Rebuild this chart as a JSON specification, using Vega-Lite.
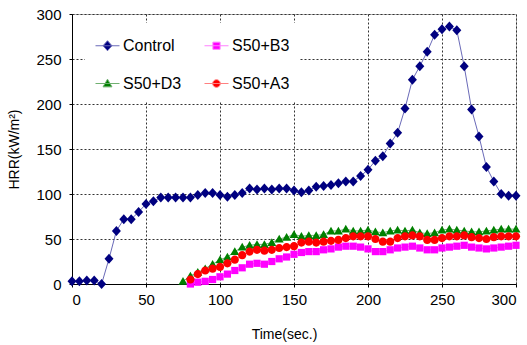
{
  "$schema": "https://vega.github.io/schema/vega-lite/v6.json",
  "width": 444,
  "height": 270,
  "autosize": "none",
  "padding": {"left": 72, "top": 14, "right": 11, "bottom": 61},
  "background": "white",
  "config": {
    "font": "Liberation Sans, Arial, sans-serif",
    "view": {"stroke": "#b8b8b8", "strokeWidth": 1},
    "axis": {
      "labelFont": "Liberation Sans, Arial, sans-serif",
      "titleFont": "Liberation Sans, Arial, sans-serif",
      "labelFontSize": 15,
      "titleFontSize": 14,
      "titleFontWeight": "normal",
      "labelColor": "#000",
      "titleColor": "#000",
      "domainColor": "#000",
      "tickColor": "#000",
      "tickSize": 3,
      "gridColor": "#333",
      "gridDash": [2, 2],
      "gridWidth": 1
    }
  },
  "data": {
    "values": [
      {"series": "Control", "t": 0, "hrr": 3}, {"series": "Control", "t": 5, "hrr": 3}, {"series": "Control", "t": 10, "hrr": 4}, {"series": "Control", "t": 15, "hrr": 4}, {"series": "Control", "t": 20, "hrr": 0}, {"series": "Control", "t": 25, "hrr": 28}, {"series": "Control", "t": 30, "hrr": 59}, {"series": "Control", "t": 35, "hrr": 72}, {"series": "Control", "t": 40, "hrr": 72}, {"series": "Control", "t": 45, "hrr": 80}, {"series": "Control", "t": 50, "hrr": 89}, {"series": "Control", "t": 55, "hrr": 92}, {"series": "Control", "t": 60, "hrr": 96}, {"series": "Control", "t": 65, "hrr": 96}, {"series": "Control", "t": 70, "hrr": 96}, {"series": "Control", "t": 75, "hrr": 96}, {"series": "Control", "t": 80, "hrr": 96}, {"series": "Control", "t": 85, "hrr": 99}, {"series": "Control", "t": 90, "hrr": 101}, {"series": "Control", "t": 95, "hrr": 101}, {"series": "Control", "t": 100, "hrr": 99}, {"series": "Control", "t": 105, "hrr": 97}, {"series": "Control", "t": 110, "hrr": 99}, {"series": "Control", "t": 115, "hrr": 101}, {"series": "Control", "t": 120, "hrr": 106}, {"series": "Control", "t": 125, "hrr": 105}, {"series": "Control", "t": 130, "hrr": 106}, {"series": "Control", "t": 135, "hrr": 105}, {"series": "Control", "t": 140, "hrr": 106}, {"series": "Control", "t": 145, "hrr": 106}, {"series": "Control", "t": 150, "hrr": 104}, {"series": "Control", "t": 155, "hrr": 102}, {"series": "Control", "t": 160, "hrr": 104}, {"series": "Control", "t": 165, "hrr": 108}, {"series": "Control", "t": 170, "hrr": 109}, {"series": "Control", "t": 175, "hrr": 110}, {"series": "Control", "t": 180, "hrr": 112}, {"series": "Control", "t": 185, "hrr": 114}, {"series": "Control", "t": 190, "hrr": 114}, {"series": "Control", "t": 195, "hrr": 120}, {"series": "Control", "t": 200, "hrr": 127}, {"series": "Control", "t": 205, "hrr": 137}, {"series": "Control", "t": 210, "hrr": 142}, {"series": "Control", "t": 215, "hrr": 156}, {"series": "Control", "t": 220, "hrr": 168}, {"series": "Control", "t": 225, "hrr": 195}, {"series": "Control", "t": 230, "hrr": 227}, {"series": "Control", "t": 235, "hrr": 242}, {"series": "Control", "t": 240, "hrr": 258}, {"series": "Control", "t": 245, "hrr": 277}, {"series": "Control", "t": 250, "hrr": 283}, {"series": "Control", "t": 255, "hrr": 286}, {"series": "Control", "t": 260, "hrr": 282}, {"series": "Control", "t": 265, "hrr": 242}, {"series": "Control", "t": 270, "hrr": 194}, {"series": "Control", "t": 275, "hrr": 164}, {"series": "Control", "t": 280, "hrr": 130}, {"series": "Control", "t": 285, "hrr": 114}, {"series": "Control", "t": 290, "hrr": 100}, {"series": "Control", "t": 295, "hrr": 98}, {"series": "Control", "t": 300, "hrr": 98},

      {"series": "S50+D3", "t": 75, "hrr": 3}, {"series": "S50+D3", "t": 80, "hrr": 9}, {"series": "S50+D3", "t": 85, "hrr": 13}, {"series": "S50+D3", "t": 90, "hrr": 17}, {"series": "S50+D3", "t": 95, "hrr": 22}, {"series": "S50+D3", "t": 100, "hrr": 27}, {"series": "S50+D3", "t": 105, "hrr": 30}, {"series": "S50+D3", "t": 110, "hrr": 36}, {"series": "S50+D3", "t": 115, "hrr": 41}, {"series": "S50+D3", "t": 120, "hrr": 43}, {"series": "S50+D3", "t": 125, "hrr": 44}, {"series": "S50+D3", "t": 130, "hrr": 44}, {"series": "S50+D3", "t": 135, "hrr": 46}, {"series": "S50+D3", "t": 140, "hrr": 50}, {"series": "S50+D3", "t": 145, "hrr": 52}, {"series": "S50+D3", "t": 150, "hrr": 55}, {"series": "S50+D3", "t": 155, "hrr": 53}, {"series": "S50+D3", "t": 160, "hrr": 54}, {"series": "S50+D3", "t": 165, "hrr": 54}, {"series": "S50+D3", "t": 170, "hrr": 55}, {"series": "S50+D3", "t": 175, "hrr": 59}, {"series": "S50+D3", "t": 180, "hrr": 59}, {"series": "S50+D3", "t": 185, "hrr": 61}, {"series": "S50+D3", "t": 190, "hrr": 59}, {"series": "S50+D3", "t": 195, "hrr": 59}, {"series": "S50+D3", "t": 200, "hrr": 60}, {"series": "S50+D3", "t": 205, "hrr": 58}, {"series": "S50+D3", "t": 210, "hrr": 57}, {"series": "S50+D3", "t": 215, "hrr": 59}, {"series": "S50+D3", "t": 220, "hrr": 60}, {"series": "S50+D3", "t": 225, "hrr": 59}, {"series": "S50+D3", "t": 230, "hrr": 60}, {"series": "S50+D3", "t": 235, "hrr": 57}, {"series": "S50+D3", "t": 240, "hrr": 56}, {"series": "S50+D3", "t": 245, "hrr": 57}, {"series": "S50+D3", "t": 250, "hrr": 60}, {"series": "S50+D3", "t": 255, "hrr": 61}, {"series": "S50+D3", "t": 260, "hrr": 60}, {"series": "S50+D3", "t": 265, "hrr": 59}, {"series": "S50+D3", "t": 270, "hrr": 58}, {"series": "S50+D3", "t": 275, "hrr": 58}, {"series": "S50+D3", "t": 280, "hrr": 59}, {"series": "S50+D3", "t": 285, "hrr": 60}, {"series": "S50+D3", "t": 290, "hrr": 61}, {"series": "S50+D3", "t": 295, "hrr": 61}, {"series": "S50+D3", "t": 300, "hrr": 61},

      {"series": "S50+B3", "t": 80, "hrr": 0}, {"series": "S50+B3", "t": 85, "hrr": 2}, {"series": "S50+B3", "t": 90, "hrr": 3}, {"series": "S50+B3", "t": 95, "hrr": 5}, {"series": "S50+B3", "t": 100, "hrr": 8}, {"series": "S50+B3", "t": 105, "hrr": 11}, {"series": "S50+B3", "t": 110, "hrr": 15}, {"series": "S50+B3", "t": 115, "hrr": 18}, {"series": "S50+B3", "t": 120, "hrr": 22}, {"series": "S50+B3", "t": 125, "hrr": 23}, {"series": "S50+B3", "t": 130, "hrr": 22}, {"series": "S50+B3", "t": 135, "hrr": 25}, {"series": "S50+B3", "t": 140, "hrr": 28}, {"series": "S50+B3", "t": 145, "hrr": 30}, {"series": "S50+B3", "t": 150, "hrr": 33}, {"series": "S50+B3", "t": 155, "hrr": 35}, {"series": "S50+B3", "t": 160, "hrr": 36}, {"series": "S50+B3", "t": 165, "hrr": 36}, {"series": "S50+B3", "t": 170, "hrr": 38}, {"series": "S50+B3", "t": 175, "hrr": 39}, {"series": "S50+B3", "t": 180, "hrr": 41}, {"series": "S50+B3", "t": 185, "hrr": 42}, {"series": "S50+B3", "t": 190, "hrr": 42}, {"series": "S50+B3", "t": 195, "hrr": 41}, {"series": "S50+B3", "t": 200, "hrr": 39}, {"series": "S50+B3", "t": 205, "hrr": 36}, {"series": "S50+B3", "t": 210, "hrr": 36}, {"series": "S50+B3", "t": 215, "hrr": 38}, {"series": "S50+B3", "t": 220, "hrr": 40}, {"series": "S50+B3", "t": 225, "hrr": 41}, {"series": "S50+B3", "t": 230, "hrr": 42}, {"series": "S50+B3", "t": 235, "hrr": 40}, {"series": "S50+B3", "t": 240, "hrr": 38}, {"series": "S50+B3", "t": 245, "hrr": 38}, {"series": "S50+B3", "t": 250, "hrr": 40}, {"series": "S50+B3", "t": 255, "hrr": 41}, {"series": "S50+B3", "t": 260, "hrr": 42}, {"series": "S50+B3", "t": 265, "hrr": 43}, {"series": "S50+B3", "t": 270, "hrr": 41}, {"series": "S50+B3", "t": 275, "hrr": 40}, {"series": "S50+B3", "t": 280, "hrr": 39}, {"series": "S50+B3", "t": 285, "hrr": 40}, {"series": "S50+B3", "t": 290, "hrr": 41}, {"series": "S50+B3", "t": 295, "hrr": 42}, {"series": "S50+B3", "t": 300, "hrr": 43},

      {"series": "S50+A3", "t": 80, "hrr": 5}, {"series": "S50+A3", "t": 85, "hrr": 11}, {"series": "S50+A3", "t": 90, "hrr": 15}, {"series": "S50+A3", "t": 95, "hrr": 17}, {"series": "S50+A3", "t": 100, "hrr": 19}, {"series": "S50+A3", "t": 105, "hrr": 23}, {"series": "S50+A3", "t": 110, "hrr": 27}, {"series": "S50+A3", "t": 115, "hrr": 32}, {"series": "S50+A3", "t": 120, "hrr": 36}, {"series": "S50+A3", "t": 125, "hrr": 38}, {"series": "S50+A3", "t": 130, "hrr": 37}, {"series": "S50+A3", "t": 135, "hrr": 38}, {"series": "S50+A3", "t": 140, "hrr": 40}, {"series": "S50+A3", "t": 145, "hrr": 41}, {"series": "S50+A3", "t": 150, "hrr": 42}, {"series": "S50+A3", "t": 155, "hrr": 46}, {"series": "S50+A3", "t": 160, "hrr": 47}, {"series": "S50+A3", "t": 165, "hrr": 46}, {"series": "S50+A3", "t": 170, "hrr": 47}, {"series": "S50+A3", "t": 175, "hrr": 48}, {"series": "S50+A3", "t": 180, "hrr": 49}, {"series": "S50+A3", "t": 185, "hrr": 51}, {"series": "S50+A3", "t": 190, "hrr": 53}, {"series": "S50+A3", "t": 195, "hrr": 53}, {"series": "S50+A3", "t": 200, "hrr": 53}, {"series": "S50+A3", "t": 205, "hrr": 50}, {"series": "S50+A3", "t": 210, "hrr": 47}, {"series": "S50+A3", "t": 215, "hrr": 47}, {"series": "S50+A3", "t": 220, "hrr": 51}, {"series": "S50+A3", "t": 225, "hrr": 53}, {"series": "S50+A3", "t": 230, "hrr": 54}, {"series": "S50+A3", "t": 235, "hrr": 53}, {"series": "S50+A3", "t": 240, "hrr": 49}, {"series": "S50+A3", "t": 245, "hrr": 49}, {"series": "S50+A3", "t": 250, "hrr": 51}, {"series": "S50+A3", "t": 255, "hrr": 53}, {"series": "S50+A3", "t": 260, "hrr": 53}, {"series": "S50+A3", "t": 265, "hrr": 54}, {"series": "S50+A3", "t": 270, "hrr": 52}, {"series": "S50+A3", "t": 275, "hrr": 51}, {"series": "S50+A3", "t": 280, "hrr": 50}, {"series": "S50+A3", "t": 285, "hrr": 52}, {"series": "S50+A3", "t": 290, "hrr": 53}, {"series": "S50+A3", "t": 295, "hrr": 53}, {"series": "S50+A3", "t": 300, "hrr": 53}
    ]
  },
  "encoding": {
    "x": {
      "field": "t", "type": "quantitative",
      "scale": {"domain": [0, 300], "nice": false, "zero": false},
      "axis": {"values": [0, 50, 100, 150, 200, 250, 300], "title": "Time(sec.)", "labelPadding": 5, "titlePadding": 20, "titleX": 212, "grid": true}
    },
    "y": {
      "field": "hrr", "type": "quantitative",
      "scale": {"domain": [0, 300], "nice": false},
      "axis": {"values": [0, 50, 100, 150, 200, 250, 300], "title": "HRR(kW/m²)", "labelPadding": 8, "titlePadding": 14, "grid": true}
    }
  },
  "layer": [
    {
      "mark": {"type": "line", "strokeWidth": 1},
      "encoding": {
        "detail": {"field": "series"},
        "stroke": {
          "field": "series", "type": "nominal",
          "scale": {"domain": ["Control", "S50+B3", "S50+D3", "S50+A3"], "range": ["#6a6ab8", "#ff80ff", "#70b070", "#ff8080"]}
        }
      }
    },
    {
      "transform": [{"filter": "datum.series === 'Control'"}],
      "mark": {"type": "point", "filled": true, "opacity": 1, "size": 100, "color": "#000080", "shape": "M0,-1L0.9,0L0,1L-0.9,0Z"}
    },
    {
      "transform": [{"filter": "datum.series === 'S50+D3'"}],
      "mark": {"type": "point", "filled": true, "opacity": 1, "size": 100, "color": "#008000", "shape": "M0,-0.85L0.9,0.7H-0.9Z"}
    },
    {
      "transform": [{"filter": "datum.series === 'S50+B3'"}],
      "mark": {"type": "point", "filled": true, "opacity": 1, "size": 100, "color": "#ff00ff", "shape": "M-0.72,-0.72H0.72V0.72H-0.72Z"}
    },
    {
      "transform": [{"filter": "datum.series === 'S50+A3'"}],
      "mark": {"type": "point", "filled": true, "opacity": 1, "size": 100, "color": "#ff0000", "shape": "M-0.82,0A0.82,0.82 0 1,0 0.82,0A0.82,0.82 0 1,0 -0.82,0Z"}
    },
    {
      "transform": [{"filter": "false"}],
      "mark": {"type": "point", "filled": true, "opacity": 1, "strokeWidth": 1},
      "encoding": {
        "color": {
          "field": "series", "type": "nominal",
          "scale": {"domain": ["Control", "S50+B3", "S50+D3", "S50+A3"], "range": ["#000080", "#ff00ff", "#008000", "#ff0000"]},
          "legend": {
            "title": null,
            "orient": "none",
            "legendX": 13,
            "legendY": 9,
            "columns": 2,
            "direction": "horizontal",
            "fillColor": "white",
            "padding": 10,
            "symbolSize": 576,
            "symbolStrokeWidth": 1,
            "labelFont": "Liberation Sans, Arial, sans-serif",
            "labelFontSize": 16,
            "labelColor": "#000",
            "labelOffset": 3,
            "columnPadding": 20,
            "rowPadding": 17
          }
        },
        "shape": {
          "field": "series", "type": "nominal",
          "scale": {"domain": ["Control", "S50+B3", "S50+D3", "S50+A3"], "range": ["M-1,0H1M0,-0.42L0.37,0L0,0.42L-0.37,0Z", "M-1,0H1M-0.3,-0.3H0.3V0.3H-0.3Z", "M-1,0H1M0,-0.36L0.37,0.28H-0.37Z", "M-1,0H1M-0.32,0A0.32,0.32 0 1,0 0.32,0A0.32,0.32 0 1,0 -0.32,0Z"]}
        },
        "stroke": {"field": "series", "type": "nominal"}
      }
    }
  ]
}
